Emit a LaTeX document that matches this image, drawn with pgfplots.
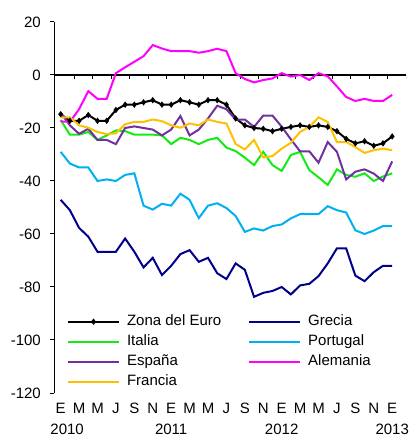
\documentclass[border=0pt]{standalone}
\usepackage{fontspec}
\setmainfont{Liberation Sans}
\usepackage{pgfplots}
\pgfplotsset{compat=1.18}
\definecolor{cGre}{RGB}{0,0,140}
\definecolor{cIta}{RGB}{20,235,20}
\definecolor{cPor}{RGB}{0,176,240}
\definecolor{cEsp}{RGB}{112,48,160}
\definecolor{cAle}{RGB}{255,0,255}
\definecolor{cFra}{RGB}{255,192,0}
\begin{document}
\begin{tikzpicture}[font=\fontsize{15bp}{18bp}\selectfont]
\begin{axis}[
  at={(0,0)}, anchor=south west, scale only axis,
  width=351.5bp, height=371bp,
  xmin=-0.67, xmax=37.5, ymin=-120, ymax=20,
  axis y line*=left, axis x line*=bottom,
  x axis line style={draw=none},
  y axis line style={line width=1.2bp},
  tick align=outside, major tick length=4bp,
  xtick={0,2,...,36},
  xticklabels={E,M,M,J,S,N,E,M,M,J,S,N,E,M,M,J,S,N,E},
  xtick style={draw=none},
  xticklabel style={inner sep=0pt, anchor=north, yshift=-6bp},
  extra x ticks={0.7,12,24,36},
  extra x tick labels={2010,2011,2012,2013},
  extra x tick style={xticklabel style={yshift=-21bp}},
  ytick={-120,-100,...,20},
  yticklabels={-120,-100,-80,-60,-40,-20,0,20},
  ytick style={line width=1bp, black},
  yticklabel style={inner sep=0pt, anchor=east, xshift=-9.5bp},
  every axis plot/.append style={line width=2bp},
  legend columns=2,
  legend style={at={(rel axis cs:0.0356,0.211)}, anchor=north west,
    draw=none, fill=none, inner sep=0pt, outer sep=0pt, row sep=6bp,
    nodes={inner sep=0pt, anchor=west, text height=11bp, text depth=3bp},
    /tikz/every odd column/.append style={column sep=7bp},
    /tikz/every even column/.append style={column sep=27bp}},
  legend image code/.code={\draw[mark repeat=2, mark phase=2, #1] plot coordinates {(0bp,0bp) (25.5bp,0bp) (51bp,0bp)};},
]
\draw[line width=1.3bp] (axis cs:-0.67,0) -- (axis cs:37.5,0);
\pgfplotsinvokeforeach{1.5,3.5,...,37.5}{\draw[line width=1bp] (axis cs:#1,0) -- ++(0bp,-4bp);}

\addplot[black, mark=diamond*, mark size=1.6bp, mark options={solid}] coordinates {
(0,-14.8)(1,-17.3)(2,-17.3)(3,-15.1)(4,-17.3)(5,-17.3)(6,-13.2)(7,-11.2)(8,-11.2)(9,-10.3)
(10,-9.5)(11,-11.2)(12,-11.2)(13,-9.5)(14,-10.3)(15,-11.2)(16,-9.5)(17,-9.5)(18,-11.2)(19,-16.4)
(20,-19)(21,-20)(22,-20.3)(23,-21.2)(24,-20.3)(25,-19.6)(26,-19)(27,-19.6)(28,-19)(29,-19.6)
(30,-21.2)(31,-24.1)(32,-25.8)(33,-25)(34,-26.7)(35,-25.8)(36,-23.2)};
\addlegendentry{Zona del Euro}

\addplot[cGre, no marks] coordinates {
(0,-47.1)(1,-51)(2,-57.7)(3,-61)(4,-66.7)(5,-66.7)(6,-66.7)(7,-61.7)(8,-66.7)(9,-72.6)
(10,-69)(11,-75.5)(12,-72)(13,-67.6)(14,-66.1)(15,-70.5)(16,-69)(17,-74.8)(18,-77)(19,-71.1)
(20,-73.5)(21,-83.7)(22,-82.2)(23,-81.5)(24,-80)(25,-82.8)(26,-79.4)(27,-78.8)(28,-75.9)(29,-71.1)
(30,-65.4)(31,-65.4)(32,-75.7)(33,-77.8)(34,-74.4)(35,-72)(36,-72)};
\addlegendentry{Grecia}

\addplot[cIta, no marks] coordinates {
(0,-17)(1,-22.5)(2,-22.5)(3,-21.5)(4,-24.5)(5,-22.8)(6,-20.9)(7,-21.2)(8,-22.5)(9,-22.5)
(10,-22.5)(11,-22.8)(12,-26.1)(13,-23.7)(14,-24.5)(15,-26.1)(16,-24.5)(17,-23.7)(18,-27.4)(19,-28.7)
(20,-31.2)(21,-34)(22,-29)(23,-34)(24,-36.2)(25,-30.2)(26,-29)(27,-35.9)(28,-38.6)(29,-41.5)
(30,-35.6)(31,-37.7)(32,-38.4)(33,-37.1)(34,-40)(35,-38.3)(36,-37.1)};
\addlegendentry{Italia}

\addplot[cPor, no marks] coordinates {
(0,-29)(1,-33.4)(2,-34.9)(3,-34.9)(4,-40)(5,-39.4)(6,-40)(7,-37.7)(8,-37.1)(9,-49.3)
(10,-50.8)(11,-48.6)(12,-49.3)(13,-44.8)(14,-47.1)(15,-54)(16,-49.3)(17,-48.4)(18,-50.2)(19,-53.2)
(20,-59.2)(21,-57.9)(22,-58.7)(23,-57)(24,-56.4)(25,-54.1)(26,-52.5)(27,-52.5)(28,-52.5)(29,-49.5)
(30,-51)(31,-51.9)(32,-58.6)(33,-60)(34,-58.7)(35,-57)(36,-57)};
\addlegendentry{Portugal}

\addplot[cEsp, no marks] coordinates {
(0,-14.2)(1,-19)(2,-22.2)(3,-20.3)(4,-24.5)(5,-24.5)(6,-26.1)(7,-20)(8,-19.4)(9,-20)
(10,-20.6)(11,-22.8)(12,-20.6)(13,-15.5)(14,-22.8)(15,-20.6)(16,-16.4)(17,-11.6)(18,-12.9)(19,-16.8)
(20,-16.8)(21,-19.6)(22,-15.3)(23,-15.3)(24,-19.5)(25,-24.3)(26,-28.8)(27,-28.8)(28,-33.1)(29,-25.3)
(30,-29)(31,-39.4)(32,-36.5)(33,-35.6)(34,-37.2)(35,-40)(36,-32.6)};
\addlegendentry{España}

\addplot[cAle, no marks] coordinates {
(0,-17.5)(1,-17.7)(2,-12.9)(3,-6.1)(4,-9)(5,-9)(6,0.7)(7,2.9)(8,5)(9,7.1)
(10,11.3)(11,10)(12,9)(13,9)(14,9)(15,8.4)(16,9)(17,9.9)(18,9)(19,0.7)
(20,-1.5)(21,-2.8)(22,-1.9)(23,-1.3)(24,0.7)(25,-0.6)(26,0)(27,-1.9)(28,0.7)(29,-0.5)
(30,-4.3)(31,-8.3)(32,-9.8)(33,-9)(34,-9.8)(35,-9.8)(36,-7.5)};
\addlegendentry{Alemania}

\addplot[cFra, no marks] coordinates {
(0,-16)(1,-16)(2,-19)(3,-19.9)(4,-21.5)(5,-22.3)(6,-22)(7,-18.6)(8,-17.7)(9,-17.7)
(10,-16.8)(11,-17.4)(12,-19)(13,-19.9)(14,-18.3)(15,-19)(16,-16.8)(17,-17.7)(18,-18.3)(19,-26)
(20,-28.1)(21,-24.5)(22,-31.1)(23,-30.6)(24,-27.8)(25,-25.6)(26,-21.5)(27,-19.6)(28,-16)(29,-17.7)
(30,-25.3)(31,-25.3)(32,-27.2)(33,-29.4)(34,-28.4)(35,-27.8)(36,-28.4)};
\addlegendentry{Francia}
\end{axis}
\pgfresetboundingbox
\useasboundingbox (-54.5bp,-44bp) rectangle (356.5bp,393bp);
\end{tikzpicture}
\end{document}
